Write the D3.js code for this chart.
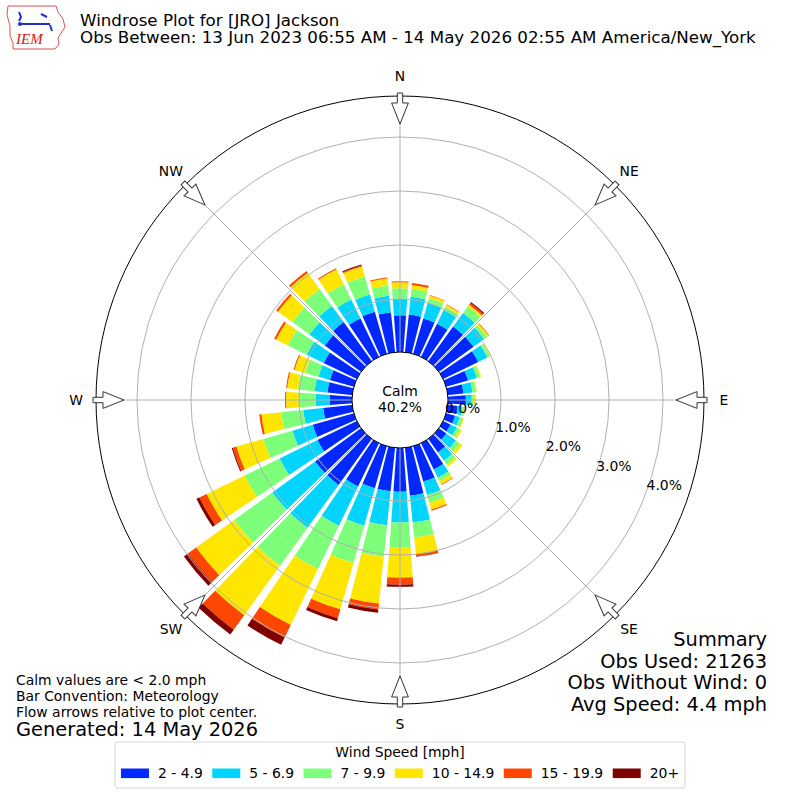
<!DOCTYPE html>
<html>
<head>
<meta charset="utf-8">
<script src="https://cdn.jsdelivr.net/npm/d3@7"></script>
<style>
  body { margin: 0; background: #fff; }
  text { font-family: "DejaVu Sans", sans-serif; fill: #000; }
</style>
</head>
<body>
<div id="container"></div>
<script>
// direction bins (degrees, meteorological, 0 = from north)
let directions = [0,10,20,30,40,50,60,70,80,90,100,110,120,130,140,150,160,170,
                  180,190,200,210,220,230,240,250,260,270,280,290,300,310,320,330,340,350];

let speedBins = ["2 - 4.9", "5 - 6.9", "7 - 9.9", "10 - 14.9", "15 - 19.9", "20+"];
let binColors = ["#0028ff", "#00d4ff", "#7dff7a", "#ffe600", "#ff4700", "#800000"];

// percent of obs per direction, one list per speed bin
let speed2to5 = [0.70,0.72,0.70,0.70,0.81,0.81,0.74,0.44,0.31,0.35,
                 0.20,0.19,0.17,0.19,0.33,0.56,0.70,0.91,0.83,
                 0.83,0.83,0.91,1.07,1.07,0.83,0.81,0.56,0.43,
                 0.48,0.48,0.70,0.85,0.91,0.81,0.83,0.76];
let speed5to7 = [0.31,0.33,0.30,0.28,0.31,0.24,0.19,0.17,0.17,0.11,
                 0.09,0.09,0.13,0.22,0.19,0.17,0.26,0.50,0.57,
                 0.63,0.72,0.81,0.98,0.98,0.78,0.39,0.37,0.26,
                 0.24,0.22,0.35,0.35,0.37,0.39,0.33,0.31];
let speed7to10 = [0.19,0.15,0.09,0.07,0.15,0.07,0.05,0.06,0.06,0.04,
                  0.04,0.06,0.06,0.09,0.09,0.07,0.15,0.28,0.46,
                  0.59,0.72,0.89,0.87,0.87,0.72,0.56,0.41,0.31,
                  0.31,0.26,0.39,0.39,0.39,0.31,0.35,0.19];
let speed10to15 = [0.11,0.07,0.05,0.04,0.04,0.04,0.02,0.02,0.02,0.04,
                   0.02,0.02,0.04,0.06,0.04,0.07,0.13,0.31,0.56,
                   0.87,0.89,1.15,1.13,0.87,0.78,0.52,0.37,0.24,
                   0.20,0.20,0.24,0.33,0.37,0.31,0.19,0.13];
let speed15to20 = [0.02,0.04,0.01,0.01,0.04,0.01,0,0,0,0,
                   0,0,0,0,0,0.01,0.02,0.04,0.13,
                   0.11,0.17,0.26,0.33,0.19,0.15,0.07,0.04,0.02,
                   0.02,0.02,0.04,0.04,0.04,0.02,0.02,0.02];
let speed20plus = [0,0,0,0,0.02,0,0,0,0,0,
                   0,0,0,0,0,0,0,0.01,0.04,
                   0.06,0.06,0.15,0.11,0.09,0.06,0.02,0,0,
                   0,0,0,0,0,0,0.02,0];

let ringTicks = [0, 1, 2, 3, 4];
let compassNames = ["N", "NE", "E", "SE", "S", "SW", "W", "NW"];
let compassAngles = [0, 45, 90, 135, 180, 225, 270, 315];
let calmPct = 40.2;

let titleLines = ["Windrose Plot for [JRO] Jackson",
                  "Obs Between: 13 Jun 2023 06:55 AM - 14 May 2026 02:55 AM America/New_York"];
let noteLines = ["Calm values are < 2.0 mph", "Bar Convention: Meteorology",
                 "Flow arrows relative to plot center."];
let generatedLine = "Generated: 14 May 2026";
let summaryLines = ["Summary", "Obs Used: 21263", "Obs Without Wind: 0", "Avg Speed: 4.4 mph"];

let w = 800;
let h = 800;
let cx = 400;
let cy = 400;
let outerR = 304;
let rad = Math.PI / 180;

let viz = d3.select("#container")
  .append("svg")
    .attr("width", w)
    .attr("height", h)
;

let rScale = d3.scaleLinear().domain([0, 4]).range([47, 263]);

// build the table d3.stack wants
let series = [speed2to5, speed5to7, speed7to10, speed10to15, speed15to20, speed20plus];
let table = directions.map(function(d, i){
  let row = {dir: d};
  speedBins.forEach(function(k, j){ row[k] = series[j][i]; });
  return row;
});
let stacked = d3.stack().keys(speedBins)(table);

let halfOpen = 10 * 0.82 / 2;
let arcMaker = d3.arc()
  .innerRadius(function(d){ return rScale(d[0]); })
  .outerRadius(function(d){ return rScale(d[1]); })
  .startAngle(function(d){ return (d.data.dir - halfOpen) * rad; })
  .endAngle(function(d){ return (d.data.dir + halfOpen) * rad; })
;

let plot = viz.append("g").attr("transform", "translate(" + cx + "," + cy + ")");

let layers = plot.selectAll(".layer").data(stacked).enter()
  .append("g")
    .attr("class", "layer")
    .attr("fill", function(d, i){ return binColors[i]; })
;
layers.selectAll("path")
  .data(function(d){ return d.filter(function(s){ return s[1] > s[0]; }); })
  .enter()
  .append("path")
    .attr("d", arcMaker)
;

// grid on top of bars
plot.selectAll(".ring").data(ringTicks.slice(1)).enter()
  .append("circle")
    .attr("r", function(d){ return rScale(d); })
    .attr("fill", "none")
    .attr("stroke", "#b0b0b0")
    .attr("stroke-width", 1)
;
plot.selectAll(".spoke").data(compassAngles).enter()
  .append("line")
    .attr("x1", 0).attr("y1", 0)
    .attr("x2", function(d){ return outerR * Math.sin(d * rad); })
    .attr("y2", function(d){ return -outerR * Math.cos(d * rad); })
    .attr("stroke", "#b0b0b0")
    .attr("stroke-width", 1)
;
plot.append("circle")
    .attr("r", outerR)
    .attr("fill", "none")
    .attr("stroke", "#000")
    .attr("stroke-width", 1)
;

// calm circle
plot.append("circle")
    .attr("r", 48)
    .attr("fill", "#fff")
    .attr("stroke", "#000")
    .attr("stroke-width", 1)
;
plot.append("text")
    .attr("x", 0).attr("y", -4)
    .attr("text-anchor", "middle")
    .style("font-size", "13.9px")
    .text("Calm")
;
plot.append("text")
    .attr("x", 0).attr("y", 12)
    .attr("text-anchor", "middle")
    .style("font-size", "13.9px")
    .text(calmPct.toFixed(1) + "%")
;

// radial tick labels
let labelAngle = 111 * rad;
plot.selectAll(".rlabel").data(ringTicks).enter()
  .append("text")
    .attr("x", function(d){ return rScale(d) * Math.sin(labelAngle) + 18.7; })
    .attr("y", function(d){ return -rScale(d) * Math.cos(labelAngle) - 9.2; })
    .attr("text-anchor", "middle")
    .attr("dominant-baseline", "central")
    .style("font-size", "13.9px")
    .text(function(d){ return d.toFixed(1) + "%"; })
;

// flow arrows at the rim, pointing at the center
let arrowPath = "M-2.7,-307 L2.7,-307 L2.7,-297 L8.4,-297 L0,-276 L-8.4,-297 L-2.7,-297 Z";
plot.selectAll(".arrow").data(compassAngles).enter()
  .append("path")
    .attr("d", arrowPath)
    .attr("transform", function(d){ return "rotate(" + d + ")"; })
    .attr("fill", "#fff")
    .attr("stroke", "#333")
    .attr("stroke-width", 1)
;

plot.selectAll(".compass").data(compassAngles).enter()
  .append("text")
    .attr("x", function(d){ return 324 * Math.sin(d * rad); })
    .attr("y", function(d){ return -324 * Math.cos(d * rad); })
    .attr("text-anchor", "middle")
    .attr("dominant-baseline", "central")
    .style("font-size", "13.9px")
    .text(function(d, i){ return compassNames[i]; })
;

// title
viz.selectAll(".title").data(titleLines).enter()
  .append("text")
    .attr("x", 80)
    .attr("y", function(d, i){ return 25.5 + i * 17.5; })
    .style("font-size", "16.7px")
    .text(function(d){ return d; })
;

// IEM logo (rough)
let logo = viz.append("g");
logo.append("path")
    .attr("d", "M8,6 L56,6 L58,12 L63,19 L65,27 L61,33 L58,38 L59,44 L55,49 L13,49 L13,43 L10,36 L10,26 L7,15 Z")
    .attr("fill", "none")
    .attr("stroke", "#d9534f")
    .attr("stroke-width", 1)
;
logo.append("path")
    .attr("d", "M19,12 L21,17 L19,21 M20,24 L50,24 M41,14 L47,17 M50,25 L52,31")
    .attr("fill", "none")
    .attr("stroke", "#2230c8")
    .attr("stroke-width", 2)
;
logo.append("circle").attr("cx", 20).attr("cy", 24).attr("r", 2).attr("fill", "#2230c8");
logo.append("text")
    .attr("x", 16).attr("y", 44)
    .style("font-family", "'Liberation Serif', serif")
    .style("font-style", "italic")
    .style("font-size", "15px")
    .style("fill", "#d42020")
    .text("IEM")
;

// notes bottom left
viz.selectAll(".note").data(noteLines).enter()
  .append("text")
    .attr("x", 16)
    .attr("y", function(d, i){ return 685 + i * 16; })
    .style("font-size", "13.9px")
    .text(function(d){ return d; })
;
viz.append("text")
    .attr("x", 16).attr("y", 736)
    .style("font-size", "19.4px")
    .text(generatedLine)
;

// summary bottom right
viz.selectAll(".summary").data(summaryLines).enter()
  .append("text")
    .attr("x", 767)
    .attr("y", function(d, i){ return 646 + i * 21.5; })
    .attr("text-anchor", "end")
    .style("font-size", "19.4px")
    .text(function(d){ return d; })
;

// legend
let legend = viz.append("g");
let legendBox = legend.append("rect")
    .attr("y", 742)
    .attr("height", 46)
    .attr("rx", 3)
    .attr("fill", "#fff")
    .attr("stroke", "#d6d6d6")
    .attr("stroke-width", 1)
;
let items = legend.selectAll(".item").data(speedBins).enter().append("g");
items.append("rect")
    .attr("width", 28)
    .attr("height", 9.6)
    .attr("y", 768.5)
    .attr("fill", function(d, i){ return binColors[i]; })
;
items.append("text")
    .attr("x", 37)
    .attr("y", 778)
    .style("font-size", "13.9px")
    .text(function(d){ return d; })
;
let gap = 9.5;
let xpos = 0;
items.each(function(){
  let tw = d3.select(this).select("text").node().getComputedTextLength();
  d3.select(this).attr("data-x", xpos);
  xpos += 37 + tw + gap;
});
let totalW = xpos - gap;
let startX = 400 - totalW / 2;
items.attr("transform", function(){ return "translate(" + (startX + (+this.getAttribute("data-x"))) + ",0)"; });
legendBox.attr("x", startX - 6).attr("width", totalW + 12);
legend.append("text")
    .attr("x", 400).attr("y", 757)
    .attr("text-anchor", "middle")
    .style("font-size", "13.9px")
    .text("Wind Speed [mph]")
;
</script>
</body>
</html>
